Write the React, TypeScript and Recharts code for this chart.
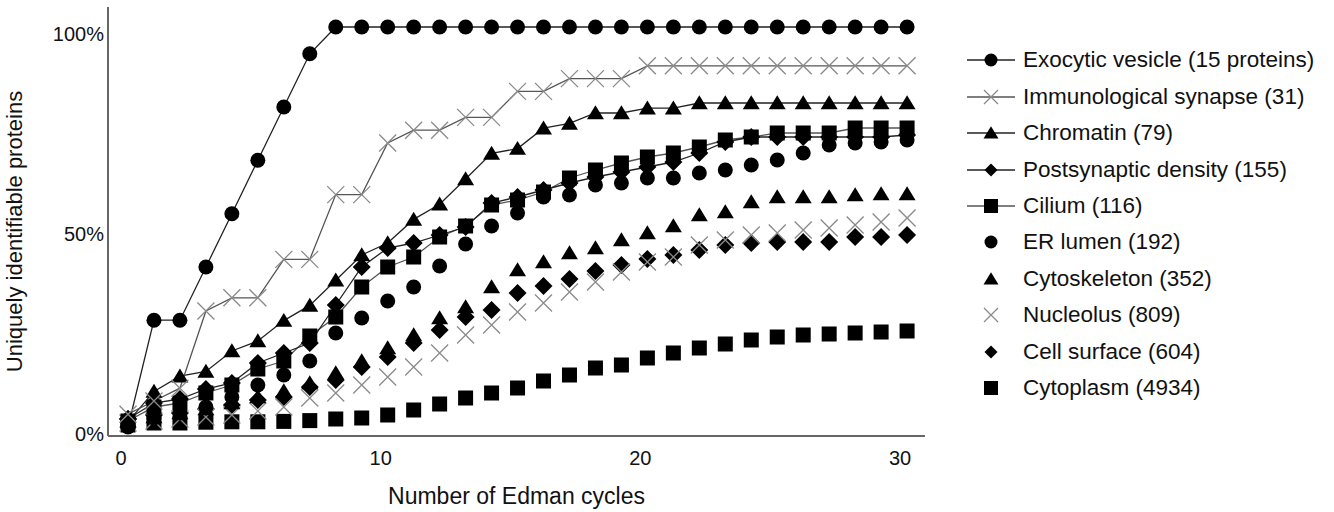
import React from 'react';
import { LineChart, Line, XAxis, YAxis, Legend } from 'recharts';

// Edman cycle number for each point
const cycles = [0, 1, 2, 3, 4, 5, 6, 7, 8, 9, 10, 11, 12, 13, 14, 15, 16, 17, 18, 19, 20, 21, 22, 23, 24, 25, 26, 27, 28, 29, 30];

// % uniquely identifiable proteins
const exocyticVesicle = [0, 26.7, 26.7, 40, 53.3, 66.7, 80, 93.3, 100, 100, 100, 100, 100, 100, 100, 100, 100, 100, 100, 100, 100, 100, 100, 100, 100, 100, 100, 100, 100, 100, 100];
const immunologicalSynapse = [3.2, 6.5, 9.7, 29.0, 32.3, 32.3, 41.9, 41.9, 58.1, 58.1, 71.0, 74.2, 74.2, 77.4, 77.4, 83.9, 83.9, 87.1, 87.1, 87.1, 90.3, 90.3, 90.3, 90.3, 90.3, 90.3, 90.3, 90.3, 90.3, 90.3, 90.3];
const chromatin = [1.3, 8.9, 12.7, 13.9, 19.0, 21.5, 26.6, 30.4, 36.7, 43.0, 46.0, 51.9, 55.7, 62.0, 68.4, 69.6, 74.7, 75.9, 78.5, 78.5, 79.7, 79.7, 81.0, 81.0, 81.0, 81.0, 81.0, 81.0, 81.0, 81.0, 81.0];
const postsynapticDensity = [2, 6, 7, 9.5, 11, 16, 18.5, 21, 30.5, 40, 44.75, 46, 48, 50, 56, 57.5, 59.25, 61, 62.5, 63.75, 65, 66.25, 68.5, 71.25, 72.5, 72.5, 72.5, 72.5, 72.5, 72.5, 73];
const cilium = [1.5, 5, 6, 8.5, 10.5, 14.5, 16.5, 22.75, 27.5, 35, 40, 42.5, 47.5, 50.25, 55.5, 56.75, 58.75, 62.25, 64.25, 66, 67.5, 68.5, 70, 71.75, 72.5, 73.5, 73.5, 73.5, 74.75, 74.75, 74.75];
const erLumen = [0.8, 2.25, 3.5, 5, 7.5, 10.5, 13, 16.5, 23.5, 27.25, 31.5, 35, 40.25, 45.75, 50.25, 53.5, 57.5, 58, 60.5, 61, 62.25, 62.25, 63.5, 64.25, 65.5, 66.75, 68.5, 70.5, 71, 71.25, 71.75];
const cytoskeleton = [1.5, 2.5, 3.5, 4.5, 6, 7.5, 9, 11, 13.5, 16.5, 19.75, 23, 27.25, 30, 35, 39.25, 41.25, 43.5, 44.75, 46.75, 48.5, 50.25, 53, 53.75, 56.25, 57.5, 57.5, 57.5, 58, 58.25, 58.25];
const nucleolus = [1, 1.5, 2, 2.5, 3, 4, 5, 7.25, 8.5, 10.5, 12.5, 15, 18.5, 23, 25.5, 28.75, 31, 33.75, 36.25, 38.75, 41.25, 42.5, 45.5, 46.75, 48, 48.5, 49.25, 49.75, 50.5, 51.25, 52.25];
const cellSurface = [2, 3, 3.5, 4.5, 5.5, 6.75, 7.5, 10, 11.75, 15, 17.5, 21, 24.25, 27.5, 29.25, 33.5, 35.25, 37, 39, 40.5, 42, 43, 44.25, 45.5, 46, 46.25, 46.25, 46.25, 47.5, 47.5, 48];
const cytoplasm = [0.5, 1, 1, 1.2, 1.3, 1.3, 1.4, 1.6, 2, 2.25, 3, 4.25, 5.75, 7.25, 8.5, 9.75, 11.5, 13, 14.75, 15.5, 17.25, 18.5, 19.75, 20.75, 21.75, 22.5, 23, 23.25, 23.5, 23.75, 24];

const xTicks = [0, 10, 20, 30];
const yTicks = [0, 50, 100];

type Kind = 'circle' | 'cross' | 'triangle' | 'diamond' | 'square';

interface SeriesDef {
    key: string;
    name: string;
    values: number[];
    kind: Kind;
    color: string;
    line?: string;
}

const series: SeriesDef[] = [
    { key: 'exo', name: 'Exocytic vesicle (15 proteins)', values: exocyticVesicle, kind: 'circle', color: '#000', line: '#222' },
    { key: 'imm', name: 'Immunological synapse (31)', values: immunologicalSynapse, kind: 'cross', color: '#8a8a8a', line: '#555' },
    { key: 'chr', name: 'Chromatin (79)', values: chromatin, kind: 'triangle', color: '#000', line: '#222' },
    { key: 'psd', name: 'Postsynaptic density (155)', values: postsynapticDensity, kind: 'diamond', color: '#000', line: '#222' },
    { key: 'cil', name: 'Cilium (116)', values: cilium, kind: 'square', color: '#000', line: '#555' },
    { key: 'er', name: 'ER lumen (192)', values: erLumen, kind: 'circle', color: '#000' },
    { key: 'cyt', name: 'Cytoskeleton (352)', values: cytoskeleton, kind: 'triangle', color: '#000' },
    { key: 'nuc', name: 'Nucleolus (809)', values: nucleolus, kind: 'cross', color: '#8a8a8a' },
    { key: 'cs', name: 'Cell surface (604)', values: cellSurface, kind: 'diamond', color: '#000' },
    { key: 'cp', name: 'Cytoplasm (4934)', values: cytoplasm, kind: 'square', color: '#000' },
];

const data = cycles.map((c, i) => {
    const row: Record<string, number> = { cycle: c };
    series.forEach(s => { row[s.key] = s.values[i]; });
    return row;
});

const markerSize: Record<Kind, number> = { circle: 15, cross: 17, triangle: 17, diamond: 18, square: 15 };
const legendSize: Record<Kind, number> = { circle: 13, cross: 14, triangle: 15, diamond: 13, square: 14 };

function Marker({ kind, cx, cy, size, color }: { kind: Kind; cx: number; cy: number; size: number; color: string }) {
    const h = size / 2;
    if (kind === 'circle') return <circle cx={cx} cy={cy} r={h} fill={color} />;
    if (kind === 'square') return <rect x={cx - h} y={cy - h} width={size} height={size} fill={color} />;
    if (kind === 'diamond') return <polygon points={`${cx},${cy - h} ${cx + h},${cy} ${cx},${cy + h} ${cx - h},${cy}`} fill={color} />;
    if (kind === 'triangle') {
        const th = size * 0.82;
        return <polygon points={`${cx},${cy - th * 0.55} ${cx + h},${cy + th * 0.45} ${cx - h},${cy + th * 0.45}`} fill={color} />;
    }
    return (
        <path d={`M${cx - h},${cy - h}L${cx + h},${cy + h}M${cx - h},${cy + h}L${cx + h},${cy - h}`}
            stroke={color} strokeWidth={1.3} fill="none" />
    );
}

const FONT = '"Liberation Sans", Arial, Helvetica, sans-serif';

function LegendBox() {
    return (
        <div style={{ fontFamily: FONT, fontSize: 22.5, color: '#111' }}>
            {series.map(s => (
                <div key={s.key} style={{ display: 'flex', alignItems: 'center', height: 36.45 }}>
                    <svg width={56} height={20} style={{ flex: 'none' }}>
                        {s.line && <line x1={0} x2={48} y1={10} y2={10} stroke={s.line} strokeWidth={1.3} />}
                        <Marker kind={s.kind} cx={24} cy={10} size={legendSize[s.kind]} color={s.color} />
                    </svg>
                    <span style={{ whiteSpace: 'nowrap' }}>{s.name}</span>
                </div>
            ))}
        </div>
    );
}

export default function App() {
    return (
        <div style={{ position: 'absolute', left: 0, top: 0, background: '#fff' }}>
            <LineChart width={1334} height={512} data={data} margin={{ top: 7, right: 409, bottom: 0, left: 0 }}>
                <XAxis
                    dataKey="cycle"
                    type="number"
                    domain={[-0.77, 30.69]}
                    allowDataOverflow
                    ticks={xTicks}
                    height={76}
                    tickLine={false}
                    tickSize={0}
                    tickMargin={15}
                    axisLine={{ stroke: '#666', strokeWidth: 2 }}
                    tick={{ fill: '#111', fontSize: 20, fontFamily: FONT, dx: -7 }}
                    label={{ value: 'Number of Edman cycles', position: 'insideBottom', offset: 8, fill: '#111', fontSize: 23, fontFamily: FONT }}
                />
                <YAxis
                    type="number"
                    domain={[-2.25, 105]}
                    allowDataOverflow
                    ticks={yTicks}
                    width={108}
                    tickLine={false}
                    tickSize={0}
                    tickMargin={4}
                    tickFormatter={(v: number) => `${v}%`}
                    axisLine={{ stroke: '#666', strokeWidth: 2 }}
                    tick={{ fill: '#111', fontSize: 20, fontFamily: FONT, dy: 7 }}
                    label={{
                        value: 'Uniquely identifiable proteins',
                        angle: -90,
                        position: 'insideLeft',
                        offset: 14,
                        dy: 10,
                        fill: '#111',
                        fontSize: 22,
                        fontFamily: FONT,
                        style: { textAnchor: 'middle' },
                    }}
                />
                <Legend
                    layout="vertical"
                    align="center"
                    verticalAlign="middle"
                    wrapperStyle={{ left: 967, top: 42, width: 367 }}
                    content={() => <LegendBox />}
                />
                {[...series].reverse().map(s => (
                    <Line
                        key={s.key}
                        dataKey={s.key}
                        name={s.name}
                        isAnimationActive={false}
                        stroke={s.line ?? 'none'}
                        strokeWidth={s.line ? 1.3 : 0}
                        activeDot={false}
                        dot={(p: any) => (
                            <Marker key={`${s.key}-${p.index}`} kind={s.kind} cx={p.cx} cy={p.cy} size={markerSize[s.kind]} color={s.color} />
                        )}
                    />
                ))}
            </LineChart>
        </div>
    );
}
